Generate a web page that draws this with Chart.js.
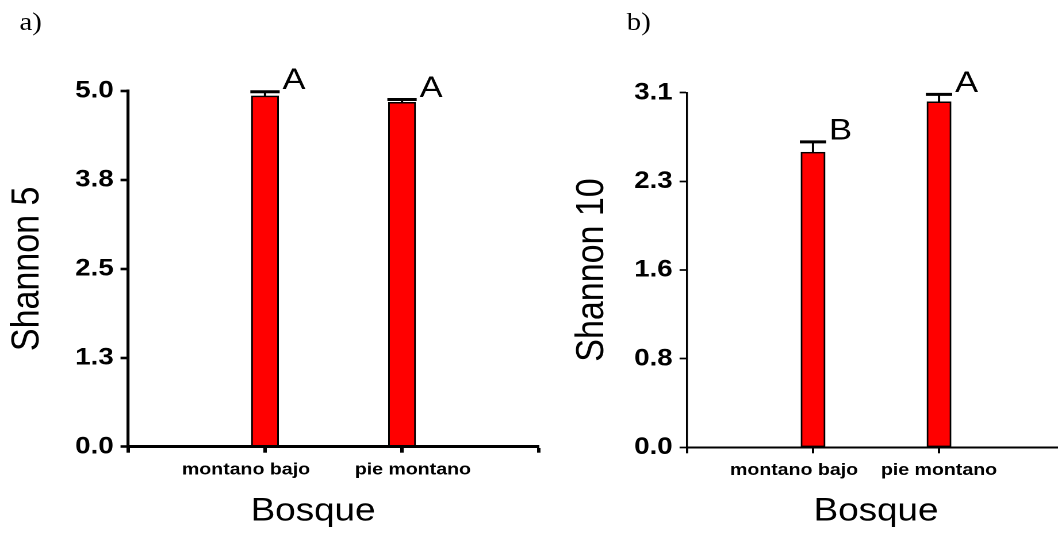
<!DOCTYPE html>
<html>
<head>
<meta charset="utf-8">
<script src="https://cdn.jsdelivr.net/npm/chart.js@4.4.1/dist/chart.umd.min.js"></script>
<style>
  body { margin: 0; overflow: hidden; background: #fff; }
  /* la figura original esta estirada a lo ancho, la estiramos igual */
  #lienzo { position: relative; width: 920px; height: 533px; transform: scaleX(1.15); transform-origin: 0 0; }
  #lienzo canvas { position: absolute; top: 0; }
  .panel { position: absolute; font-family: 'Liberation Serif', 'Times New Roman', serif; font-size: 25px; line-height: 25px; }
</style>
</head>
<body>
<div id="lienzo">
  <div class="panel" style="left:17px; top:9px;">a)</div>
  <div class="panel" style="left:545px; top:9px;">b)</div>
  <canvas id="graficaA" width="480" height="533" style="left:0px"></canvas>
  <canvas id="graficaB" width="460" height="533" style="left:480px"></canvas>
</div>
<script>
// datos
const categorias = ['montano bajo', 'pie montano'];

const shannon5 = [4.93, 4.84];
const shannon5Err = [0.06, 0.04];
const shannon5Letras = ['A', 'A'];
const shannon5Ticks = [0, 1.25, 2.5, 3.75, 5.0];
const shannon5TickLabels = ['0.0', '1.3', '2.5', '3.8', '5.0'];

const shannon10 = [2.58, 3.02];
const shannon10Err = [0.09, 0.065];
const shannon10Letras = ['B', 'A'];
const shannon10Ticks = [0, 0.775, 1.55, 2.325, 3.1];
const shannon10TickLabels = ['0.0', '0.8', '1.6', '2.3', '3.1'];

const fuente = "'Liberation Sans', Arial, sans-serif";
const nb = (n) => '\u00a0'.repeat(n); // espacios para correr un poco las etiquetas como en la figura

// barras de error (solo hacia arriba) y letras de significancia
const barrasError = {
  id: 'barrasError',
  afterDraw(chart, args, opts) {
    const ctx = chart.ctx;
    const meta = chart.getDatasetMeta(0);
    const yScale = chart.scales.y;
    const valores = chart.data.datasets[0].data;
    meta.data.forEach((bar, i) => {
      if (valores[i] == null) return;
      const err = opts.errores[i - 1];
      const yTop = yScale.getPixelForValue(valores[i] + err);
      const mitad = bar.width / 2 + 1;
      ctx.save();
      ctx.strokeStyle = '#000';
      ctx.lineWidth = 2;
      ctx.beginPath();
      ctx.moveTo(bar.x, bar.y);
      ctx.lineTo(bar.x, yTop);
      ctx.stroke();
      ctx.lineWidth = 3;
      ctx.beginPath();
      ctx.moveTo(bar.x - mitad, yTop);
      ctx.lineTo(bar.x + mitad, yTop);
      ctx.stroke();
      ctx.fillStyle = '#000';
      ctx.font = '30px ' + fuente;
      ctx.textAlign = 'left';
      ctx.textBaseline = 'alphabetic';
      ctx.fillText(opts.letras[i - 1], bar.x + mitad + 2.5, yTop - 2.5);
      ctx.restore();
    });
  }
};

function crearGrafica(canvas, conf) {
  return new Chart(canvas, {
    type: 'bar',
    data: {
      labels: ['', ...categorias, ''],
      datasets: [{
        data: [null, ...conf.valores, null],
        backgroundColor: '#ff0000',
        borderColor: '#000',
        borderWidth: 1.5,
        borderSkipped: false,
        barThickness: conf.ancho
      }]
    },
    plugins: [barrasError],
    options: {
      responsive: false,
      animation: false,
      devicePixelRatio: 2,
      layout: { padding: conf.padding },
      plugins: {
        legend: { display: false },
        tooltip: { enabled: false },
        barrasError: { errores: conf.errores, letras: conf.letras }
      },
      scales: {
        x: {
          offset: false,
          grid: { offset: false, drawOnChartArea: false, drawTicks: true, tickLength: 6, tickColor: '#000', tickWidth: conf.linea },
          border: { display: true, color: '#000', width: conf.linea },
          ticks: { color: '#000', padding: 7, maxRotation: 0, autoSkip: false, font: { family: fuente, weight: 'bold', size: 17 },
            callback: function (v, i) {
              const txt = this.getLabelForValue(v);
              if (!txt) return '';
              const e = conf.espacios[i - 1];
              return e < 0 ? txt + nb(-e) : nb(e) + txt;
            } },
          title: { display: true, text: 'Bosque' + nb(conf.espBosque), color: '#000', padding: 0, font: { family: fuente, size: 32 } },
          afterFit: (s) => { s.height = conf.altoX; }
        },
        y: {
          min: 0,
          max: conf.ticks[conf.ticks.length - 1],
          afterBuildTicks: (s) => { s.ticks = conf.ticks.map(v => ({ value: v })); },
          grid: { drawOnChartArea: false, drawTicks: true, tickLength: 6.5, tickColor: '#000', tickWidth: conf.lineaY },
          border: { display: true, color: '#000', width: conf.lineaY },
          ticks: { color: '#000', padding: conf.padTicks, font: { family: fuente, weight: 'bold', size: 24 },
            callback: (v, i) => conf.tickLabels[i] },
          title: { display: true, text: conf.titulo, color: '#000', padding: 0, font: { family: fuente, size: 34 } },
          afterFit: (s) => { s.width = conf.anchoY; }
        }
      }
    }
  });
}

crearGrafica(document.getElementById('graficaA'), {
  valores: shannon5, errores: shannon5Err, letras: shannon5Letras,
  ticks: shannon5Ticks, tickLabels: shannon5TickLabels, titulo: 'Shannon 5',
  espacios: [-7, 4], espBosque: 4,
  ancho: 23.5, linea: 3, lineaY: 2.6, padTicks: 6,
  padding: { left: 3.5, right: 11.3, top: 91, bottom: 2 },
  anchoY: 107.8, altoX: 84.3
});

crearGrafica(document.getElementById('graficaB'), {
  valores: shannon10, errores: shannon10Err, letras: shannon10Letras,
  ticks: shannon10Ticks, tickLabels: shannon10TickLabels, titulo: 'Shannon 10',
  espacios: [-7, 0], espBosque: 0,
  ancho: 20.9, linea: 2, lineaY: 1.7, padTicks: 6,
  padding: { left: 14.8, right: 13.9, top: 92.7, bottom: 2 },
  anchoY: 102.6, altoX: 83.7
});
</script>
</body>
</html>
